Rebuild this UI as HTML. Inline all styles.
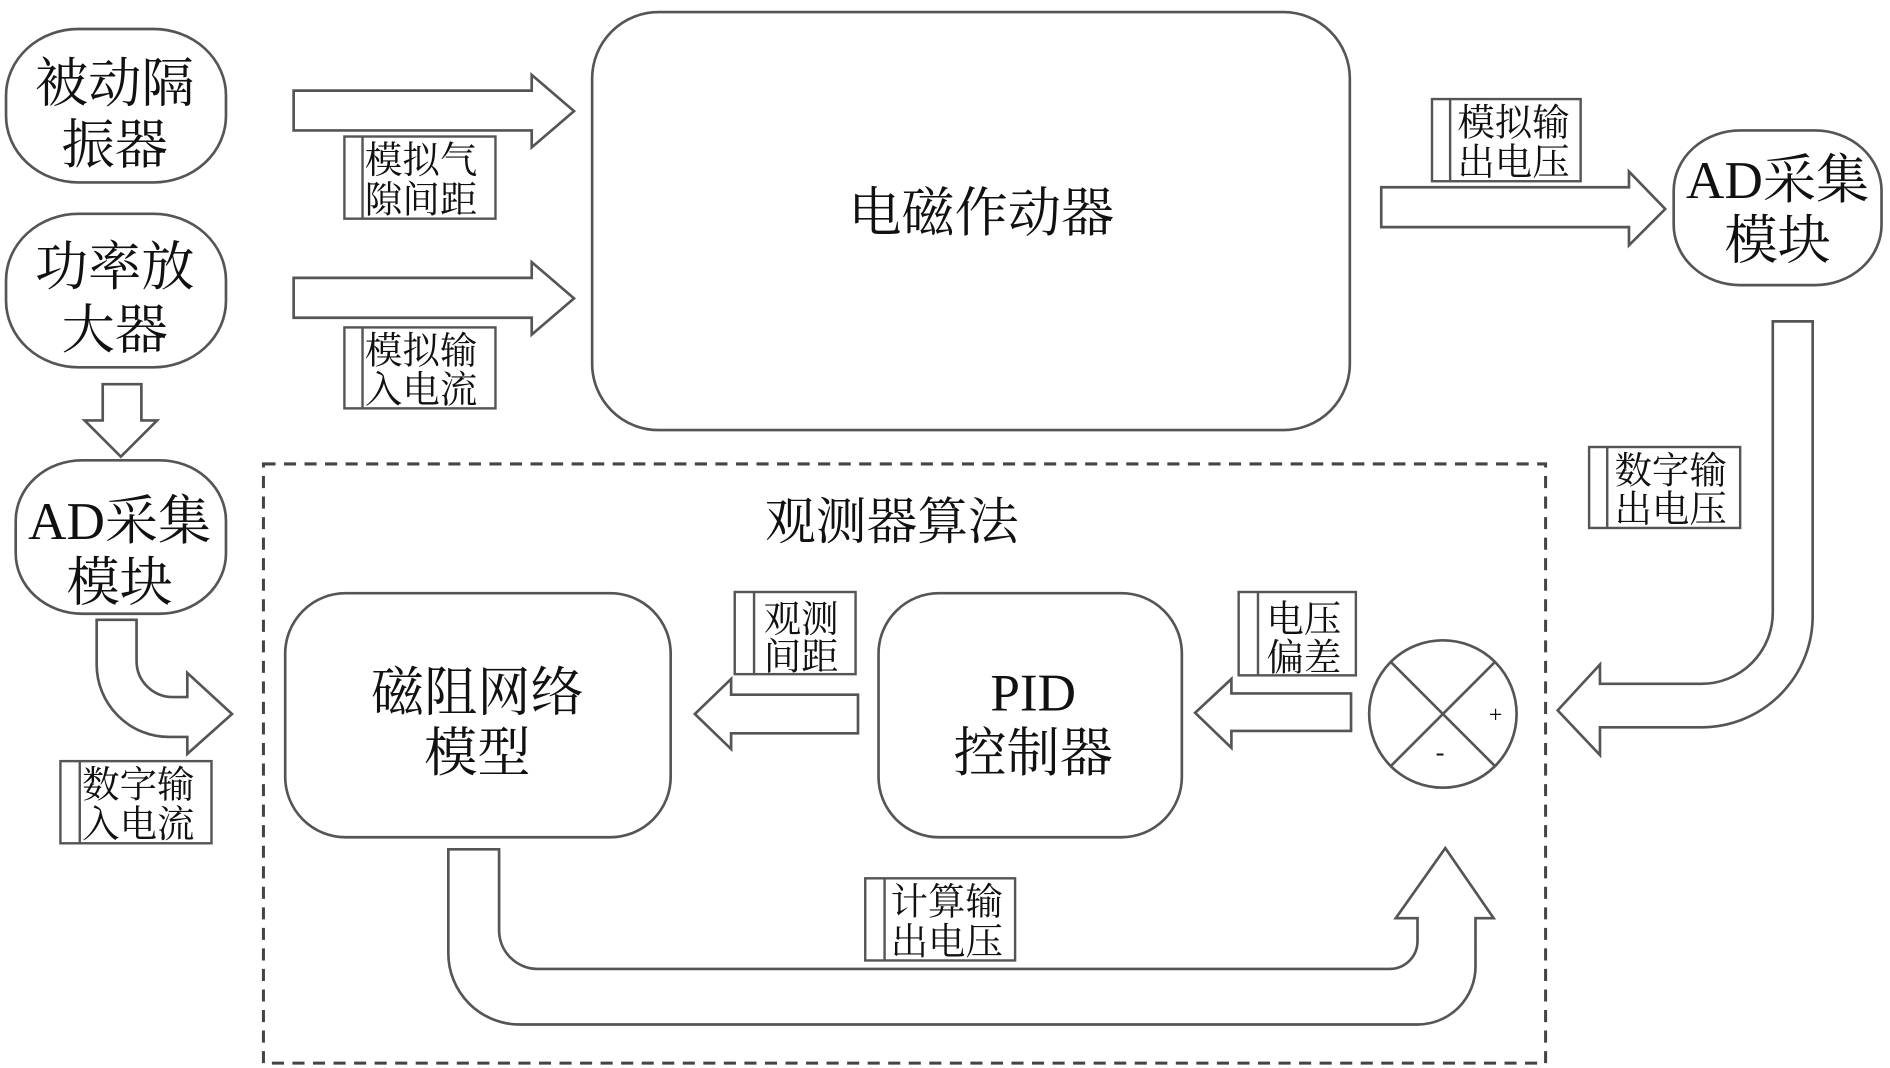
<!DOCTYPE html>
<html><head><meta charset="utf-8"><style>
html,body{margin:0;padding:0;background:#fff;width:1890px;height:1068px;overflow:hidden}
svg{display:block}
text{font-family:"Liberation Serif","Noto Serif CJK SC",serif;fill:#111}
</style></head><body>
<svg width="1890" height="1068" viewBox="0 0 1564 884" preserveAspectRatio="none" xmlns="http://www.w3.org/2000/svg">
<g fill="#fff" stroke="#555" stroke-width="2.2">
<!-- left nodes -->
<rect x="5" y="24" width="182" height="127" rx="60" ry="55"/>
<rect x="5" y="177" width="182" height="127" rx="60" ry="55"/>
<rect x="13" y="381" width="174" height="127" rx="55" ry="50"/>
<rect x="1385" y="108" width="172" height="128" rx="55" ry="50"/>
<!-- big box -->
<rect x="490" y="10" width="627" height="346" rx="55" ry="55"/>
<!-- down arrow -->
<path d="M85,318 L117,318 L117,348 L130,348 L100,378 L70,348 L85,348 Z"/>
<!-- right arrows -->
<path d="M243,75 L440,75 L440,62 L475,92 L440,122 L440,108 L243,108 Z"/>
<path d="M243,230 L440,230 L440,217 L475,247 L440,277 L440,263 L243,263 Z"/>
<path d="M1143,155 L1348,155 L1348,142 L1378,173 L1348,203 L1348,188 L1143,188 Z"/>
<!-- right pipe -->
<path d="M1467,266 L1500,266 L1500,510 A92,92 0 0 1 1408,602 L1324,602 L1324,625 L1289,588 L1324,550 L1324,566 L1408,566 A59,59 0 0 0 1467,507 Z"/>
<!-- left pipe -->
<path d="M80,513 L113,513 L113,547 A30,30 0 0 0 143,577 L155,577 L155,557 L192,591 L155,624 L155,610 L140,610 A60,60 0 0 1 80,550 Z"/>
<!-- dashed box -->
<rect x="218" y="384" width="1061" height="496" fill="none" stroke="#444" stroke-width="2.5" stroke-dasharray="10,7"/>
<!-- inner boxes -->
<rect x="236" y="491" width="319" height="202" rx="50" ry="50"/>
<rect x="727" y="491" width="251" height="202" rx="50" ry="50"/>
<circle cx="1194" cy="591" r="61"/>
<line x1="1151" y1="548" x2="1237" y2="634"/>
<line x1="1237" y1="548" x2="1151" y2="634"/>
<!-- inner arrows -->
<path d="M1118,574 L1118,605 L1019,605 L1019,619 L989,590 L1019,562 L1019,574 Z"/>
<path d="M710,575 L710,607 L605,607 L605,620 L575,591 L605,562 L605,575 Z"/>
<path d="M371,703 L413,703 L413,770 A32,32 0 0 0 445,802 L1150,802 A23,23 0 0 0 1173,779 L1173,760 L1155,760 L1196,702 L1236,760 L1221,760 L1221,800 A48,48 0 0 1 1173,848 L430,848 A59,59 0 0 1 371,789 Z"/>
</g>
<!-- labels -->
<g fill="#fff" stroke="#555" stroke-width="2">
<rect x="285" y="113" width="125" height="68"/><line x1="300" y1="113" x2="300" y2="181"/>
<rect x="285" y="271" width="125" height="67"/><line x1="300" y1="271" x2="300" y2="338"/>
<rect x="1185" y="82" width="123" height="68"/><line x1="1200" y1="82" x2="1200" y2="150"/>
<rect x="1315" y="370" width="125" height="67"/><line x1="1330" y1="370" x2="1330" y2="437"/>
<rect x="608" y="490" width="100" height="68"/><line x1="624" y1="490" x2="624" y2="558"/>
<rect x="1025" y="490" width="97" height="69"/><line x1="1041" y1="490" x2="1041" y2="559"/>
<rect x="50" y="630" width="125" height="68"/><line x1="66" y1="630" x2="66" y2="698"/>
<rect x="716" y="727" width="124" height="68"/><line x1="732" y1="727" x2="732" y2="795"/>
</g>
<g font-size="31">
<text x="302" y="143">模拟气</text><text x="302" y="176">隙间距</text>
<text x="302" y="301">模拟输</text><text x="302" y="333">入电流</text>
<text x="1206" y="112">模拟输</text><text x="1206" y="145">出电压</text>
<text x="1336" y="400">数字输</text><text x="1336" y="432">出电压</text>
<text x="632" y="523">观测</text><text x="632" y="554">间距</text>
<text x="1048" y="523">电压</text><text x="1048" y="555">偏差</text>
<text x="68" y="660">数字输</text><text x="68" y="693">入电流</text>
<text x="737" y="757">计算输</text><text x="737" y="790">出电压</text>
</g>
<g font-size="44" text-anchor="middle">
<text x="95" y="84">被动隔</text><text x="95" y="135">振器</text>
<text x="95" y="236">功率放</text><text x="95" y="288">大器</text>
<text x="99" y="446">AD采集</text><text x="99" y="497">模块</text>
<text x="1471" y="164">AD采集</text><text x="1471" y="214">模块</text>
<text x="812" y="191">电磁作动器</text>
<text x="738" y="446" font-size="42">观测器算法</text>
<text x="395" y="588">磁阻网络</text><text x="395" y="638">模型</text>
<text x="855" y="588">PID</text><text x="855" y="638">控制器</text>
</g>
<text x="1232" y="598" font-size="20" font-family="Liberation Sans,sans-serif">+</text>
<text x="1188" y="630" font-size="22" font-family="Liberation Sans,sans-serif">-</text>
</svg>
</body></html>
